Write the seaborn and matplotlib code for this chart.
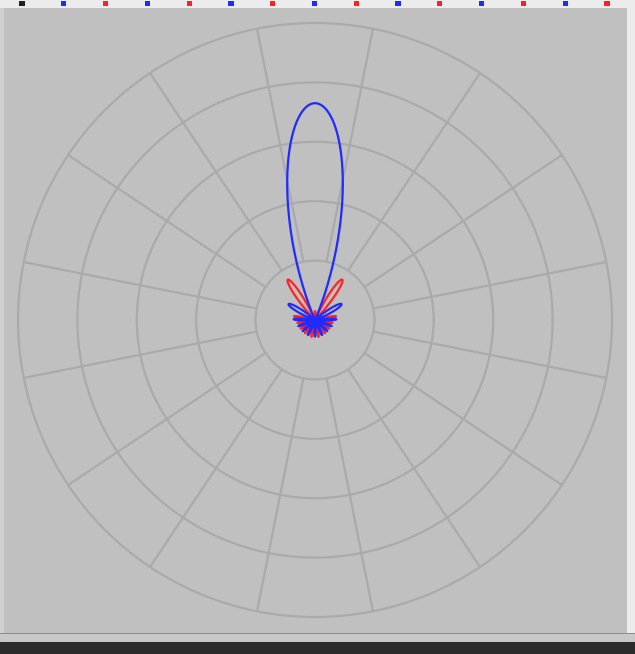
import numpy as np
import matplotlib
matplotlib.use("Agg")
import matplotlib.pyplot as plt
from matplotlib.patches import Rectangle
import seaborn as sns

# Лепестки диаграммы направленности (направление, град; амплитуда; полуширина, град)
blue_dirs = [90, 31, 149, 2, 178, 200, 340, 222, 318, 245, 295, 270]
blue_peaks = [3.65, 0.52, 0.52, 0.36, 0.36, 0.30, 0.30, 0.28, 0.28, 0.28, 0.28, 0.28]
blue_widths = [24, 12, 12, 7, 7, 6, 6, 6, 6, 6, 6, 6]

red_dirs = [56, 124, 90, 10, 170, 189, 351, 211, 329, 233, 307, 258, 282]
red_peaks = [0.82, 0.82, 0.15, 0.36, 0.36, 0.30, 0.30, 0.28, 0.28, 0.28, 0.28, 0.29, 0.29]
red_widths = [11, 11, 7, 7, 7, 6, 6, 6, 6, 6, 6, 6, 6]

# Цвета маркеров в верхней полосе
strip_colors = ["#222222"] + ["#1a2cff", "#ff2020"] * 7

ring_values = [1, 2, 3, 4, 5]

sns.set_style("white")

GRID = "#a9abab"
PANEL = "#c0c0c0"
BLUE = "#1f2bff"
RED = "#ff2424"


def pattern(theta, dirs, peaks, widths):
    r = np.zeros_like(theta)
    for d, p, w in zip(dirs, peaks, widths):
        delta = np.angle(np.exp(1j * (theta - np.deg2rad(d))))
        u = np.clip(np.abs(delta) / np.deg2rad(w), 0, 1)
        r += p * np.cos(np.pi / 2 * u) ** 1.4
    return r


fig = plt.figure(figsize=(6.35, 6.54), dpi=100)
fig.patch.set_facecolor("#ececec")

# фон окна
bg = fig.add_axes([0, 0, 1, 1])
bg.set_xlim(0, 635)
bg.set_ylim(654, 0)
bg.axis("off")
bg.add_patch(Rectangle((0, 7.5), 4, 625, color="#d0d0d0", lw=0))
bg.add_patch(Rectangle((4, 7.5), 623, 625, color=PANEL, lw=0))
bg.add_patch(Rectangle((0, 632.5), 635, 1.5, color="#8c8c8c", lw=0))
bg.add_patch(Rectangle((0, 634), 635, 7.5, color="#c8c8c8", lw=0))
bg.add_patch(Rectangle((0, 641.5), 635, 13, color="#2b2b2b", lw=0))
bg.scatter(np.linspace(22, 607, len(strip_colors)), [3.7] * len(strip_colors),
           marker="s", s=14, c=strip_colors, linewidths=0)

# полярная диаграмма
ax = fig.add_axes([18 / 635, 37 / 654, 594 / 635, 594 / 654], projection="polar")
ax.set_facecolor("none")
ax.set_ylim(0, ring_values[-1])
ax.set_rticks(ring_values[:-1])
ax.set_yticklabels([])
ax.set_xticks([])
ax.yaxis.grid(True, color=GRID, lw=1.6)
ax.spines["polar"].set_color(GRID)
ax.spines["polar"].set_linewidth(1.6)

spokes = np.deg2rad(11.25 + 22.5 * np.arange(16))
ax.vlines(spokes, ring_values[0], ring_values[-1], colors=GRID, lw=1.6)

theta = np.linspace(0, 2 * np.pi, 3601)
sns.lineplot(x=theta, y=pattern(theta, red_dirs, red_peaks, red_widths), ax=ax,
             sort=False, estimator=None, color=RED, lw=1.6)
sns.lineplot(x=theta, y=pattern(theta, blue_dirs, blue_peaks, blue_widths), ax=ax,
             sort=False, estimator=None, color=BLUE, lw=1.6)
ax.set_xlabel("")
ax.set_ylabel("")

fig.savefig("out.png", dpi=100)
